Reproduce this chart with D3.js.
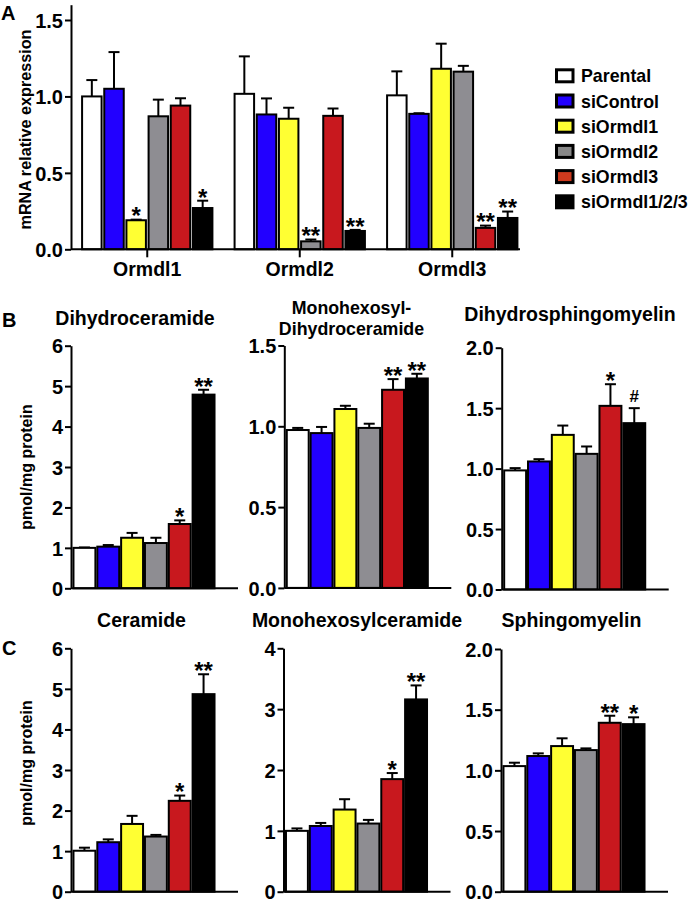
<!DOCTYPE html>
<html><head><meta charset="utf-8">
<script src="https://cdn.jsdelivr.net/npm/d3@7"></script>
<style>
body{margin:0;background:#fff;}
svg{display:block;}
text{font-family:"Liberation Sans",Arial,Helvetica,sans-serif;font-weight:bold;fill:#000;}
</style></head><body>
<svg id="chart" width="690" height="907"></svg>
<script>
// ---------- data ----------
const groups = ["Parental","siControl","siOrmdl1","siOrmdl2","siOrmdl3","siOrmdl1/2/3"];
const barColors = ["#ffffff","#2200ff","#ffff33","#8e8d92","#c8181e","#000000"];
const legendColors = ["#ffffff","#2200ff","#ffff33","#888888","#cc3a1e","#000000"];

const genes = ["Ormdl1","Ormdl2","Ormdl3"];
const ormdl1Mean = [1.00, 1.05, 0.19, 0.87, 0.94, 0.27];
const ormdl1Err  = [0.107, 0.24, 0.004, 0.109, 0.048, 0.048];
const ormdl1Sig  = ["", "", "*", "", "", "*"];
const ormdl2Mean = [1.017, 0.882, 0.854, 0.052, 0.873, 0.12];
const ormdl2Err  = [0.245, 0.105, 0.072, 0.012, 0.048, 0.007];
const ormdl2Sig  = ["", "", "", "**", "", "**"];
const ormdl3Mean = [1.007, 0.886, 1.181, 1.162, 0.14, 0.205];
const ormdl3Err  = [0.157, 0.004, 0.164, 0.038, 0.015, 0.042];
const ormdl3Sig  = ["", "", "", "", "**", "**"];
const mrnaTicks = [0, 0.5, 1.0, 1.5];

const dhCerMean = [1.00, 1.03, 1.25, 1.12, 1.59, 4.79];
const dhCerErr  = [0.01, 0.04, 0.12, 0.13, 0.09, 0.12];
const dhCerSig  = ["", "", "", "", "*", "**"];
const dhCerTicks = [0,1,2,3,4,5,6];

const mhDhCerMean = [0.977, 0.958, 1.107, 0.99, 1.226, 1.296];
const mhDhCerErr  = [0.013, 0.038, 0.02, 0.026, 0.066, 0.029];
const mhDhCerSig  = ["", "", "", "", "**", "**"];
const mhDhCerTicks = [0, 0.5, 1.0, 1.5];

const dhSmMean = [0.985, 1.059, 1.279, 1.122, 1.519, 1.376];
const dhSmErr  = [0.019, 0.019, 0.077, 0.061, 0.179, 0.124];
const dhSmSig  = ["", "", "", "", "*", "#"];
const dhSmTicks = [0, 0.5, 1.0, 1.5, 2.0];

const cerMean = [1.01, 1.22, 1.67, 1.36, 2.24, 4.87];
const cerErr  = [0.075, 0.07, 0.2, 0.04, 0.13, 0.49];
const cerSig  = ["", "", "", "", "*", "**"];
const cerTicks = [0,1,2,3,4,5,6];

const mhCerMean = [1.0, 1.08, 1.35, 1.12, 1.85, 3.16];
const mhCerErr  = [0.04, 0.05, 0.17, 0.06, 0.10, 0.23];
const mhCerSig  = ["", "", "", "", "*", "**"];
const mhCerTicks = [0,1,2,3,4];

const smMean = [1.035, 1.118, 1.2, 1.167, 1.392, 1.381];
const smErr  = [0.028, 0.022, 0.064, 0.014, 0.058, 0.056];
const smSig  = ["", "", "", "", "**", "*"];
const smTicks = [0, 0.5, 1.0, 1.5, 2.0];

// ---------- drawing ----------
const svg = d3.select("#chart");
const FONT_TICK = 20, STAR = 24;

function rows(mean, err, sig) {
  return groups.map((g, i) => ({group: g, mean: mean[i], err: err[i], sig: sig[i], color: barColors[i]}));
}

function drawBars(g, data, x, y) {
  const bw = x.bandwidth();
  const capHalf = Math.min(5.5, bw / 2);
  const bar = g.selectAll("g.bar").data(data).join("g").attr("class", "bar");
  bar.append("line")
    .attr("x1", d => x(d.group) + bw / 2).attr("x2", d => x(d.group) + bw / 2)
    .attr("y1", d => y(d.mean)).attr("y2", d => y(d.mean + d.err))
    .attr("stroke", "#000").attr("stroke-width", 2);
  bar.append("line")
    .attr("x1", d => x(d.group) + bw / 2 - capHalf).attr("x2", d => x(d.group) + bw / 2 + capHalf)
    .attr("y1", d => y(d.mean + d.err)).attr("y2", d => y(d.mean + d.err))
    .attr("stroke", "#000").attr("stroke-width", 2);
  bar.append("rect")
    .attr("x", d => x(d.group)).attr("width", bw)
    .attr("y", d => y(d.mean)).attr("height", d => y(0) - y(d.mean))
    .attr("fill", d => d.color).attr("stroke", "#000").attr("stroke-width", 2);
  bar.filter(d => d.sig).append("text")
    .attr("x", d => x(d.group) + bw / 2)
    .attr("y", d => d.sig === "#" ? y(d.mean + d.err) - 6 : y(d.mean + d.err) - 5.5 + STAR * 0.43)
    .attr("text-anchor", "middle")
    .attr("font-size", d => d.sig === "#" ? 17 : STAR)
    .text(d => d.sig);
}

function yAxis(g, y, ticks, fmt) {
  const ax = d3.axisLeft(y).tickValues(ticks).tickFormat(fmt).tickSize(6).tickSizeOuter(0).tickPadding(2);
  g.call(ax);
  g.select(".domain").attr("stroke", "#000").attr("stroke-width", 2);
  g.selectAll(".tick line").attr("stroke", "#000").attr("stroke-width", 2);
  g.selectAll(".tick text").attr("font-size", FONT_TICK).attr("font-family", "Liberation Sans, Arial, sans-serif")
    .attr("font-weight", "bold").attr("fill", "#000").attr("dy", "0.36em");
}

// ---------- Panel A ----------
{
  const g = svg.append("g");
  const y = d3.scaleLinear().domain([0, 1.6]).range([249.3, 4.7]);
  const x0 = d3.scaleBand().domain(genes).range([71, 528.5]);
  const x1 = d3.scaleBand().domain(groups).range([0, x0.bandwidth()]).paddingInner(0.12).paddingOuter(0.5);
  const sets = [[ormdl1Mean, ormdl1Err, ormdl1Sig], [ormdl2Mean, ormdl2Err, ormdl2Sig], [ormdl3Mean, ormdl3Err, ormdl3Sig]];
  genes.forEach((gene, i) => {
    const gg = g.append("g").attr("transform", `translate(${x0(gene)},0)`);
    drawBars(gg, rows(...sets[i]), x1, y);
  });
  const ya = g.append("g").attr("transform", "translate(71,0)");
  yAxis(ya, y, mrnaTicks, d3.format(".1f"));
  const xa = g.append("g").attr("transform", `translate(0,${y(0)})`)
    .call(d3.axisBottom(x0).tickSize(8).tickSizeOuter(0).tickPadding(5));
  xa.select(".domain").attr("stroke", "#000").attr("stroke-width", 2).attr("d", "M71,0H520");
  xa.selectAll(".tick line").attr("stroke", "#000").attr("stroke-width", 2);
  xa.selectAll(".tick text").attr("font-size", 19.5).attr("font-weight", "bold")
    .attr("font-family", "Liberation Sans, Arial, sans-serif").attr("fill", "#000");
  g.append("text").attr("transform", "translate(31,129.5) rotate(-90)").attr("text-anchor", "middle")
    .attr("font-size", 16.2).text("mRNA relative expression");
  g.append("text").attr("x", 1).attr("y", 20).attr("font-size", 20).text("A");

  // legend
  const lg = g.append("g");
  const item = lg.selectAll("g").data(groups).join("g")
    .attr("transform", (d, i) => `translate(0,${82.3 + i * 25.2})`);
  item.append("rect").attr("x", 556.5).attr("y", -12.5).attr("width", 16.5).attr("height", 12)
    .attr("fill", (d, i) => legendColors[i]).attr("stroke", "#000").attr("stroke-width", 3);
  item.append("text").attr("x", 581).attr("y", 0).attr("font-size", 17.8).text(d => d);
}

// ---------- Panels B & C ----------
const panels = [
  {ax: 71, y0: 588.3, yTop: 345.7, max: 6, ticks: dhCerTicks, fmt: d3.format("d"), data: [dhCerMean, dhCerErr, dhCerSig],
   title: ["Dihydroceramide"], tx: 135, ty: [325], fs: 19.5},
  {ax: 284.3, y0: 587.9, yTop: 345.5, max: 1.5, ticks: mhDhCerTicks, fmt: d3.format(".1f"), data: [mhDhCerMean, mhDhCerErr, mhDhCerSig],
   title: ["Monohexosyl-", "Dihydroceramide"], tx: 351.5, ty: [314, 334.5], fs: 17.8},
  {ax: 501.7, y0: 589.5, yTop: 347.7, max: 2, ticks: dhSmTicks, fmt: d3.format(".1f"), data: [dhSmMean, dhSmErr, dhSmSig],
   title: ["Dihydrosphingomyelin"], tx: 570, ty: [320.5], fs: 19.5},
  {ax: 71, y0: 891.7, yTop: 648.3, max: 6, ticks: cerTicks, fmt: d3.format("d"), data: [cerMean, cerErr, cerSig],
   title: ["Ceramide"], tx: 141.5, ty: [626.5], fs: 19.5},
  {ax: 283.5, y0: 891.7, yTop: 648.3, max: 4, ticks: mhCerTicks, fmt: d3.format("d"), data: [mhCerMean, mhCerErr, mhCerSig],
   title: ["Monohexosylceramide"], tx: 357, ty: [626.5], fs: 19.5},
  {ax: 501, y0: 891.7, yTop: 649, max: 2, ticks: smTicks, fmt: d3.format(".1f"), data: [smMean, smErr, smSig],
   title: ["Sphingomyelin"], tx: 571.5, ty: [626.5], fs: 19.5},
];

panels.forEach(p => {
  const g = svg.append("g");
  const y = d3.scaleLinear().domain([0, p.max]).range([p.y0, p.yTop]);
  const x = d3.scaleBand().domain(groups).range([p.ax + 2, p.ax + 144]).paddingInner(0.08).paddingOuter(0.02);
  drawBars(g, rows(...p.data), x, y);
  g.append("line").attr("x1", p.ax).attr("x2", p.ax + 167).attr("y1", p.y0).attr("y2", p.y0)
    .attr("stroke", "#000").attr("stroke-width", 2);
  const ya = g.append("g").attr("transform", `translate(${p.ax},0)`);
  yAxis(ya, y, p.ticks, p.fmt);
  p.title.forEach((t, i) => g.append("text").attr("x", p.tx).attr("y", p.ty[i])
    .attr("text-anchor", "middle").attr("font-size", p.fs).text(t));
});

svg.append("text").attr("transform", "translate(32,467) rotate(-90)").attr("text-anchor", "middle")
  .attr("font-size", 16).text("pmol/mg protein");
svg.append("text").attr("transform", "translate(32,763) rotate(-90)").attr("text-anchor", "middle")
  .attr("font-size", 16).text("pmol/mg protein");
svg.append("text").attr("x", 2).attr("y", 326.5).attr("font-size", 20).text("B");
svg.append("text").attr("x", 2).attr("y", 655).attr("font-size", 20).text("C");
</script>
</body></html>
